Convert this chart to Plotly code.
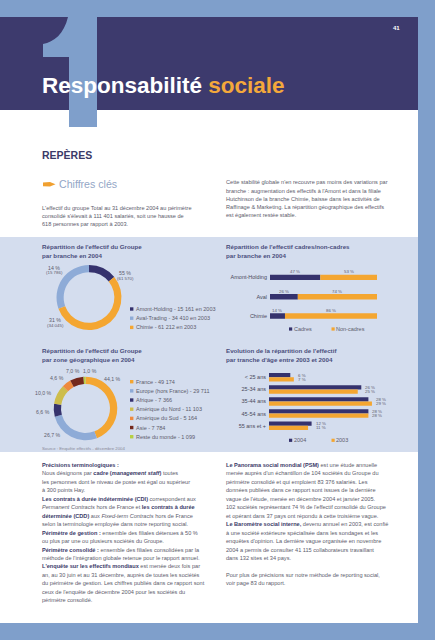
import plotly.graph_objects as go

W, H = 435, 640

# ---------------- data ----------------
branche_labels = ["Amont-Holding", "Aval-Trading", "Chimie"]
branche_2004 = [15786, 34045, 61570]
branche_pct_text = ["14 %", "31 %", "55 %"]
branche_2003_text = ["15 161", "34 410", "61 212"]

zone_labels = ["France", "Europe (hors France)", "Afrique", "Amérique du Nord",
               "Amérique du Sud", "Asie", "Reste du monde"]
zone_values = [49174, 29711, 7366, 11103, 5164, 7784, 1099]
zone_pct_text = ["44,1 %", "26,7 %", "6,6 %", "10,0 %", "4,6 %", "7,0 %", "1,0 %"]

cadre_cats = ["Amont-Holding", "Aval", "Chimie"]
cadres = [47, 26, 14]
non_cadres = [53, 74, 86]

age_cats = ["< 25 ans", "25-34 ans", "35-44 ans", "45-54 ans", "55 ans et +"]
age_2004 = [6, 26, 28, 28, 12]
age_2003 = [7, 25, 29, 28, 11]

# ---------------- style ----------------
OUTER = "#7f9fcb"
HEADER = "#3d3a6d"
PANEL = "#d4ddee"
NAVY = "#35326d"
ORANGE = "#f4a631"
MIDBLUE = "#8eabd7"
BODY = "#5c5c6c"
BOLDC = "#3b3a68"
TITLEC = "#4a4e7c"
FONT = "Liberation Sans, Arial, sans-serif"
zone_colors = [ORANGE, MIDBLUE, NAVY, "#cdbd4c", "#ee8a3e", "#74281c", "#b6cf43"]
branche_colors = [NAVY, MIDBLUE, ORANGE]


def X(x):
    return x / W


def Y(y):
    return 1 - y / H


ann = []
shapes = []


def T(x, y, s, size=5.6, color=BODY, xanchor="left", bold=False):
    if bold:
        s = "<b>" + s + "</b>"
    ann.append(dict(xref="paper", yref="paper", x=X(x), y=Y(y), text=s,
                    showarrow=False, xanchor=xanchor, yanchor="middle",
                    align="left", borderpad=0, borderwidth=0,
                    font=dict(size=size, color=color, family=FONT)))


def R(x0, y0, x1, y1, color):
    shapes.append(dict(type="rect", xref="paper", yref="paper",
                       x0=X(x0), x1=X(x1), y0=Y(y1), y1=Y(y0),
                       fillcolor=color, line=dict(width=0), layer="below"))


def PATH(cmds, color):
    parts = []
    for c in cmds:
        if isinstance(c, str):
            parts.append(c)
        else:
            parts.append(f"{X(c[0]):.5f},{Y(c[1]):.5f}")
    shapes.append(dict(type="path", xref="paper", yref="paper", path=" ".join(parts),
                       fillcolor=color, line=dict(width=0), layer="below"))


def b(s):
    return f"<b><span style='color:{BOLDC}'>{s}</span></b>"


# ---------------- page background ----------------
R(0, 17, 418, 110, HEADER)
R(0, 110, 418, 237, "#ffffff")
R(0, 237, 418, 452, PANEL)
R(0, 452, 418, 623, "#ffffff")
# big "1"
PATH(["M", (43, 57), "L", (43, 44), "C", (54, 42), (64, 34), (68, 17),
      "L", (97, 17), "L", (97, 127), "L", (69, 127), "L", (69, 57), "Z"], OUTER)
# orange pointer icon
PATH(["M", (43, 182.4), "L", (50, 182), "L", (55.5, 184.3), "L", (50, 186.6),
      "L", (43, 186.2), "Z"], "#f0a030")

# ---------------- header text ----------------
T(396, 28, "41", size=6, color="#ffffff", xanchor="center", bold=True)
T(42, 85, "Responsabilité <span style='color:#f3a83b'>sociale</span>", size=22.5,
  color="#ffffff", bold=True)
T(42, 154.5, "REPÈRES", size=10.5, color=BOLDC, bold=True)
T(59, 183.5, "Chiffres clés", size=10.6, color="#93a6c6")

intro_left = ["L'effectif du groupe Total au 31 décembre 2004 au périmètre",
              "consolidé s'élevait à 111 401 salariés, soit une hausse de",
              "618 personnes par rapport à 2003."]
for i, s in enumerate(intro_left):
    T(42, 207.7 + 8.0 * i, s)
intro_right = ["Cette stabilité globale n'en recouvre pas moins des variations par",
               "branche : augmentation des effectifs à l'Amont et dans la filiale",
               "Hutchinson de la branche Chimie, baisse dans les activités de",
               "Raffinage &amp; Marketing. La répartition géographique des effectifs",
               "est également restée stable."]
for i, s in enumerate(intro_right):
    T(226, 182.3 + 8.3 * i, s)

# ---------------- chart titles ----------------
T(42, 246, "Répartition de l'effectif du Groupe", size=6.2, color=TITLEC, bold=True)
T(42, 255, "par branche en 2004", size=6.2, color=TITLEC, bold=True)
T(42, 350, "Répartition de l'effectif du Groupe", size=6.2, color=TITLEC, bold=True)
T(42, 359, "par zone géographique en 2004", size=6.2, color=TITLEC, bold=True)
T(226, 246, "Répartition de l'effectif cadres/non-cadres", size=6.2, color=TITLEC, bold=True)
T(226, 255, "par branche en 2004", size=6.2, color=TITLEC, bold=True)
T(226, 350, "Evolution de la répartition de l'effectif", size=6.2, color=TITLEC, bold=True)
T(226, 359, "par tranche d'âge entre 2003 et 2004", size=6.2, color=TITLEC, bold=True)

# ---------------- donut 1 ----------------
fig = go.Figure()
fig.add_trace(go.Pie(labels=branche_labels, values=branche_2004, sort=False,
                     direction="counterclockwise", rotation=0, hole=0.78,
                     marker=dict(colors=branche_colors, line=dict(width=0)),
                     textinfo="none", showlegend=False,
                     domain=dict(x=[X(56.5), X(121.5)], y=[Y(330), Y(265)])))
b_pos = [(54, 267.5), (55, 320), (125, 273)]
for (px_, py_), pct, val in zip(b_pos, branche_pct_text, branche_2004):
    T(px_, py_, pct, size=5.2, color=BODY, xanchor="center")
    T(px_ + 0.5, py_ + 5.3, "(" + f"{val:,}".replace(",", " ") + ")", size=4.4,
      color=BODY, xanchor="center")
for i, (lab, v03, col) in enumerate(zip(branche_labels, branche_2003_text, branche_colors)):
    yy = 309 + 9.2 * i
    R(130, yy - 1.7, 133.4, yy + 1.7, col)
    T(136, yy, f"{lab} - {v03} en 2003", size=5.5)

# ---------------- donut 2 ----------------
fig.add_trace(go.Pie(labels=zone_labels, values=zone_values, sort=False,
                     direction="clockwise", rotation=0, hole=0.77,
                     marker=dict(colors=zone_colors, line=dict(width=0)),
                     textinfo="none", showlegend=False,
                     domain=dict(x=[X(53.7), X(117.3)], y=[Y(440.3), Y(376.7)])))
z_pos = [(112.5, 379), (52, 435), (43, 412.3), (43, 393.3), (57, 378.3), (73.3, 371), (89.7, 371)]
for (px_, py_), pct in zip(z_pos, zone_pct_text):
    T(px_, py_, pct, size=5.2, color=BODY, xanchor="center")
for i, (lab, v, col) in enumerate(zip(zone_labels, zone_values, zone_colors)):
    yy = 381.7 + 9.17 * i
    R(130, yy - 1.7, 133.4, yy + 1.7, col)
    T(136, yy, lab + " - " + f"{v:,}".replace(",", " "), size=5.5)
T(42, 448, "Source : Enquête effectifs - décembre 2004", size=4.3, color="#8a8a98")

# ---------------- cadres / non-cadres ----------------
fig.add_trace(go.Bar(y=cadre_cats, x=cadres, orientation="h", width=0.28,
                     marker=dict(color=NAVY, line=dict(width=0)), name="Cadres",
                     xaxis="x", yaxis="y", showlegend=False, hoverinfo="skip"))
fig.add_trace(go.Bar(y=cadre_cats, x=non_cadres, base=cadres, orientation="h", width=0.28,
                     marker=dict(color=ORANGE, line=dict(width=0)), name="Non-cadres",
                     xaxis="x", yaxis="y", showlegend=False, hoverinfo="skip"))
for cat, c, n in zip(cadre_cats, cadres, non_cadres):
    for xc, v in ((c / 2, c), (c + n / 2, n)):
        ann.append(dict(xref="x", yref="y", x=xc, y=cat, text=f"{v} %", showarrow=False,
                        yshift=5.5, xanchor="center", yanchor="middle",
                        font=dict(size=4.4, color=BODY, family=FONT)))
R(289, 327.4, 292.2, 330.6, NAVY)
T(294, 329, "Cadres", size=5.5)
R(331.5, 327.4, 334.7, 330.6, ORANGE)
T(336, 329, "Non-cadres", size=5.5)

# ---------------- age ----------------
fig.add_trace(go.Bar(y=age_cats, x=age_2004, orientation="h", width=0.35, offset=-0.35,
                     marker=dict(color=NAVY, line=dict(width=0)), name="2004",
                     xaxis="x2", yaxis="y2", showlegend=False, hoverinfo="skip"))
fig.add_trace(go.Bar(y=age_cats, x=age_2003, orientation="h", width=0.35, offset=0,
                     marker=dict(color=ORANGE, line=dict(width=0)), name="2003",
                     xaxis="x2", yaxis="y2", showlegend=False, hoverinfo="skip"))
for cat, a, c in zip(age_cats, age_2004, age_2003):
    m = max(a, c)
    for v, sh in ((a, 2.1), (c, -2.1)):
        ann.append(dict(xref="x2", yref="y2", x=m, y=cat, text=f"{v} %", showarrow=False,
                        xshift=2, yshift=sh, xanchor="left", yanchor="middle",
                        font=dict(size=4.4, color=BODY, family=FONT)))
R(289, 438.7, 292.2, 441.9, NAVY)
T(294, 440.3, "2004", size=5.5)
R(331.5, 438.7, 334.7, 441.9, ORANGE)
T(336, 440.3, "2003", size=5.5)

# ---------------- lower text ----------------
left_lines = [
    b("Précisions terminologiques :"),
    "Nous désignons par " + b("cadre") + " " + b("(<i>management staff</i>)") + " toutes",
    "les personnes dont le niveau de poste est égal ou supérieur",
    "à 300 points Hay.",
    b("Les contrats à durée indéterminée (CDI)") + " correspondent aux",
    "<i>Permanent Contracts</i> hors de France et " + b("les contrats à durée"),
    b("déterminée (CDD)") + " aux <i>Fixed-term Contracts</i> hors de France",
    "selon la terminologie employée dans notre reporting social.",
    b("Périmètre de gestion :") + " ensemble des filiales détenues à 50 %",
    "ou plus par une ou plusieurs sociétés du Groupe.",
    b("Périmètre consolidé :") + " ensemble des filiales consolidées par la",
    "méthode de l'intégration globale retenue pour le rapport annuel.",
    b("L'enquête sur les effectifs mondiaux") + " est menée deux fois par",
    "an, au 30 juin et au 31 décembre, auprès de toutes les sociétés",
    "du périmètre de gestion. Les chiffres publiés dans ce rapport sont",
    "ceux de l'enquête de décembre 2004 pour les sociétés du",
    "périmètre consolidé.",
]
for i, s in enumerate(left_lines):
    T(42, 465 + 8.45 * i, s)

right_lines = [
    b("Le Panorama social mondial (PSM)") + " est une étude annuelle",
    "menée auprès d'un échantillon de 104 sociétés du Groupe du",
    "périmètre consolidé et qui emploient 83 376 salariés. Les",
    "données publiées dans ce rapport sont issues de la dernière",
    "vague de l'étude, menée en décembre 2004 et janvier 2005.",
    "102 sociétés représentant 74 % de l'effectif consolidé du Groupe",
    "et opérant dans 37 pays ont répondu à cette troisième vague.",
    b("Le Baromètre social interne,") + " devenu annuel en 2003, est confié",
    "à une société extérieure spécialisée dans les sondages et les",
    "enquêtes d'opinion. La dernière vague organisée en novembre",
    "2004 a permis de consulter 41 115 collaborateurs travaillant",
    "dans 132 sites et 34 pays.",
    "",
    "Pour plus de précisions sur notre méthode de reporting social,",
    "voir page 83 du rapport.",
]
for i, s in enumerate(right_lines):
    if s:
        T(226, 465 + 8.45 * i, s)

# ---------------- layout ----------------
axis_off = dict(showgrid=False, zeroline=False, showline=False, showticklabels=False, ticks="")
fig.update_layout(
    width=W, height=H, margin=dict(l=0, r=0, t=0, b=0),
    paper_bgcolor=OUTER, plot_bgcolor="rgba(0,0,0,0)",
    barmode="overlay", showlegend=False,
    font=dict(family=FONT, color=BODY),
    xaxis=dict(domain=[X(270), X(377)], range=[0, 100], anchor="y", fixedrange=True, **axis_off),
    yaxis=dict(domain=[Y(325.7), Y(267.7)], range=[2.5, -0.5], type="category", anchor="x",
               showgrid=False, zeroline=False, showline=False, ticks="", fixedrange=True,
               ticklabelstandoff=2,
               tickfont=dict(size=5.5, color="#4a4a5a", family=FONT)),
    xaxis2=dict(domain=[X(269), X(375.5)], range=[0, 30], anchor="y2", fixedrange=True, **axis_off),
    yaxis2=dict(domain=[Y(431.75), Y(371.25)], range=[4.5, -0.5], type="category", anchor="x2",
                showgrid=False, zeroline=False, showline=False, ticks="", fixedrange=True,
                ticklabelstandoff=2,
                tickfont=dict(size=5.5, color="#4a4a5a", family=FONT)),
    annotations=ann, shapes=shapes,
)

fig.write_html("out.html", config={"displayModeBar": False, "staticPlot": True},
               post_script="document.body.style.margin='0';document.body.style.overflow='hidden';")
